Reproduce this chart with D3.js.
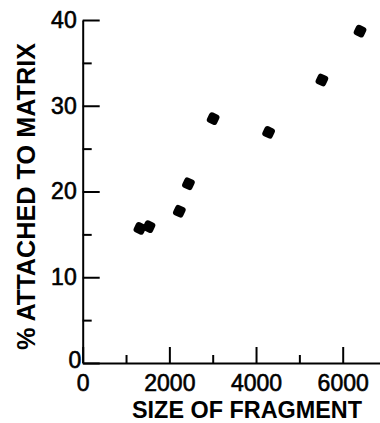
<!DOCTYPE html>
<html>
<head>
<meta charset="utf-8">
<script src="https://cdn.jsdelivr.net/npm/d3@7/dist/d3.min.js"></script>
<style>
  body { margin: 0; background: #fff; }
  svg { display: block; }
</style>
</head>
<body>
<svg id="chart" width="380" height="423"></svg>
<script>
// fragment size (bp) vs % attached to matrix
const fragmentSize = [1320, 1530, 2230, 2440, 3010, 4290, 5520, 6400];
const pctAttached = [15.7, 15.9, 17.7, 20.9, 28.5, 26.9, 33.0, 38.7];

const xMajorTicks = [0, 2000, 4000, 6000];
const xMinorTicks = [1000, 3000, 5000];
const yMajorTicks = [0, 10, 20, 30, 40];
const yMinorTicks = [5, 15, 25, 35];

const xTitle = "SIZE OF FRAGMENT";
const yTitle = "% ATTACHED TO MATRIX";

const svg = d3.select("#chart")
    .attr("font-family", "'Liberation Sans', Arial, sans-serif");

const x = d3.scaleLinear().domain([0, 6900]).range([82.7, 381.7]);
const y = d3.scaleLinear().domain([0, 40]).range([363, 20]);

const fontSize = 23;

// x axis: labels on majors, short minors
const gx = svg.append("g")
    .attr("transform", `translate(0, ${y(0)})`)
    .call(d3.axisBottom(x).tickValues(xMajorTicks).tickSizeInner(-16).tickSizeOuter(0)
        .tickPadding(12).tickFormat(d3.format("d")));
svg.append("g")
    .attr("transform", `translate(0, ${y(0)})`)
    .call(d3.axisBottom(x).tickValues(xMinorTicks).tickSizeInner(-8).tickSizeOuter(0).tickFormat(""))
    .select(".domain").remove();

// y axis
const gy = svg.append("g")
    .attr("transform", `translate(${x(0)}, 0)`)
    .call(d3.axisLeft(y).tickValues(yMajorTicks).tickSizeInner(-17).tickSizeOuter(0)
        .tickPadding(6));
svg.append("g")
    .attr("transform", `translate(${x(0)}, 0)`)
    .call(d3.axisLeft(y).tickValues(yMinorTicks).tickSizeInner(-9).tickSizeOuter(0).tickFormat(""))
    .select(".domain").remove();

svg.selectAll(".domain, .tick line")
    .attr("stroke", "#000")
    .attr("stroke-width", 2);
svg.selectAll(".tick text")
    .attr("fill", "#000")
    .attr("stroke", "#000")
    .attr("stroke-width", 0.6)
    .style("font-size", fontSize + "px");

// the y-axis "0" sits a little lower and closer to the corner
gy.selectAll(".tick text").filter(d => d === 0).attr("dx", "0.2em").attr("dy", "0.2em");

// titles
svg.append("text")
    .attr("x", 132)
    .attr("y", 418)
    .attr("textLength", 230)
    .attr("lengthAdjust", "spacingAndGlyphs")
    .attr("font-weight", "bold")
    .style("font-size", fontSize + "px")
    .text(xTitle);

svg.append("text")
    .attr("transform", `translate(35, 350) rotate(-90)`)
    .attr("textLength", 307)
    .attr("lengthAdjust", "spacingAndGlyphs")
    .attr("font-weight", "bold")
    .style("font-size", "25px")
    .text(yTitle);

// points: small rounded squares, slightly tilted
const pts = fragmentSize.map((s, i) => [s, pctAttached[i]]);
svg.append("g")
    .selectAll("rect")
    .data(pts)
    .enter()
    .append("rect")
    .attr("x", -5.5)
    .attr("y", -5.5)
    .attr("width", 11)
    .attr("height", 11)
    .attr("rx", 3)
    .attr("transform", d => `translate(${x(d[0])}, ${y(d[1])}) rotate(25)`)
    .attr("fill", "#000");
</script>
</body>
</html>
